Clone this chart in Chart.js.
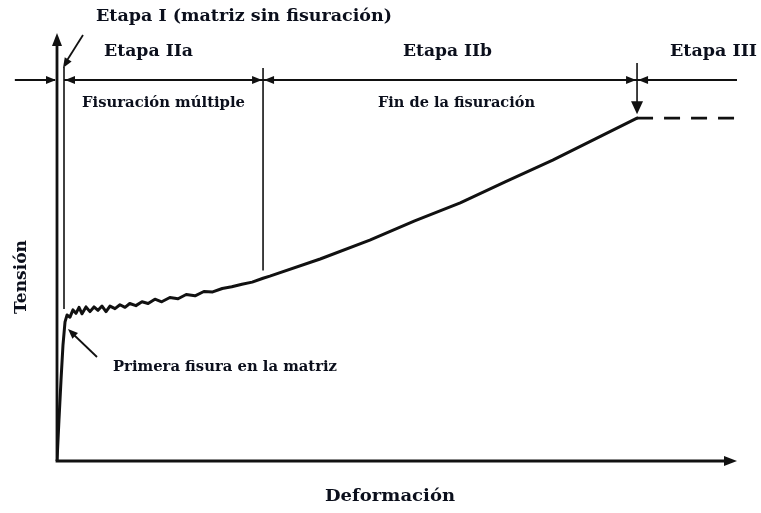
<!DOCTYPE html>
<html>
<head>
<meta charset="utf-8">
<script src="https://cdn.jsdelivr.net/npm/chart.js@4/dist/chart.umd.min.js"></script>
<style>
  html, body { margin: 0; padding: 0; background: #fff; }
  #wrap { width: 761px; height: 513px; }
</style>
</head>
<body>
<div id="wrap"><canvas id="curveChart" width="761" height="513"></canvas></div>
<script>
// Curva tensión-deformación (unidades relativas 0-100)
const strain = [0, 0.29, 0.59, 0.88, 1.18, 1.47, 1.91, 2.35, 2.79, 3.24, 3.68, 4.26, 4.85, 5.44, 6.03,
    6.62, 7.21, 7.79, 8.53, 9.26, 10.0, 10.7, 11.6, 12.5, 13.4, 14.4, 15.4, 16.6, 17.8, 19.0, 20.3,
    21.6, 22.9, 24.3, 25.7, 27.2, 28.7, 30.3, 31.3, 38.7, 46.0, 52.6, 59.3, 65.9, 72.9, 79.1, 85.3];
const stress = [0, 9.6, 18.9, 27.1, 32.5, 34.1, 33.6, 35.3, 34.5, 35.9, 34.4, 36.0, 34.9, 36.0, 35.2,
    36.2, 34.9, 36.2, 35.6, 36.5, 35.9, 36.8, 36.3, 37.2, 36.8, 37.8, 37.2, 38.2, 37.9, 38.9, 38.6,
    39.6, 39.5, 40.3, 40.7, 41.3, 41.8, 42.7, 43.2, 47.2, 51.6, 56.1, 60.3, 65.2, 70.3, 75.2, 80.1];

// Meseta (etapa III, línea discontinua)
const plateauStrain = [85.3, 100];
const plateauStress = [80.1, 80.1];

// Límites entre etapas (deformación)
const stageBounds = [1.03, 30.3, 85.3];
const dimLevel = 89;      // altura de la línea de cotas
const dimStart = -6.2;

const curvePoints = strain.map((x, i) => ({ x: x, y: stress[i] }));
const plateauPoints = plateauStrain.map((x, i) => ({ x: x, y: plateauStress[i] }));

const INK = '#111';
const TEXT = '#0b0f1c';

function arrowHead(ctx, tx, ty, angle, len, half) {
    ctx.save();
    ctx.translate(tx, ty);
    ctx.rotate(angle);
    ctx.beginPath();
    ctx.moveTo(0, 0);
    ctx.lineTo(-len, -half);
    ctx.lineTo(-len, half);
    ctx.closePath();
    ctx.fill();
    ctx.restore();
}

function line(ctx, x1, y1, x2, y2, w) {
    ctx.lineWidth = w;
    ctx.beginPath();
    ctx.moveTo(x1, y1);
    ctx.lineTo(x2, y2);
    ctx.stroke();
}

function label(ctx, text, left, cy, size, width) {
    ctx.save();
    ctx.font = 'bold ' + size + 'px "DejaVu Serif"';
    ctx.textBaseline = 'middle';
    ctx.textAlign = 'left';
    ctx.fillStyle = TEXT;
    const w = ctx.measureText(text).width;
    ctx.translate(left, cy);
    ctx.scale(width / w, 1);
    ctx.fillText(text, 0, 0);
    ctx.restore();
}

const schematic = {
    id: 'schematic',
    afterDatasetsDraw(chart) {
        const ctx = chart.ctx;
        const xs = chart.scales.x, ys = chart.scales.y;
        const px = v => xs.getPixelForValue(v);
        const py = v => ys.getPixelForValue(v);
        ctx.save();
        ctx.strokeStyle = INK;
        ctx.fillStyle = INK;
        ctx.lineCap = 'butt';

        // ejes con flechas
        line(ctx, px(0), py(0), px(0), py(100) + 8, 2.8);
        arrowHead(ctx, px(0), py(100), -Math.PI / 2, 13, 5);
        line(ctx, px(0) - 1.4, py(0), px(100) - 8, py(0), 2.8);
        arrowHead(ctx, px(100), py(0), 0, 13, 5);

        // línea de cotas
        const yd = py(dimLevel);
        const b0 = px(stageBounds[0]), b1 = px(stageBounds[1]), b2 = px(stageBounds[2]);
        line(ctx, px(dimStart), yd, px(0) - 2, yd, 2);
        arrowHead(ctx, px(0) - 1, yd, 0, 10, 4);
        line(ctx, b0, yd, b1, yd, 2);
        arrowHead(ctx, b0 + 1, yd, Math.PI, 10, 4);
        arrowHead(ctx, b1 - 1, yd, 0, 10, 4);
        line(ctx, b1, yd, b2, yd, 2);
        arrowHead(ctx, b1 + 1, yd, Math.PI, 10, 4);
        arrowHead(ctx, b2 - 1, yd, 0, 10, 4);
        line(ctx, b2, yd, px(100), yd, 2);
        arrowHead(ctx, b2 + 1, yd, Math.PI, 10, 4);

        // verticales de separación
        line(ctx, b0, yd - 13, b0, py(35.5), 1.6);
        line(ctx, b1, yd - 12, b1, py(44.5), 1.6);
        line(ctx, b2, yd - 17, b2, py(80.1) - 12, 1.6);
        arrowHead(ctx, b2, py(80.1) - 4, Math.PI / 2, 13, 6);

        // flecha "Etapa I"
        line(ctx, 83, 35, 66, 62, 1.8);
        arrowHead(ctx, 63, 68, Math.atan2(68 - 35, 63 - 83), 10, 4);

        // flecha "Primera fisura"
        line(ctx, 97, 357, 73, 334, 1.8);
        arrowHead(ctx, 68, 329, Math.atan2(329 - 357, 68 - 97), 10, 4);

        // textos
        label(ctx, 'Etapa I (matriz sin fisuración)', 96, 17, 17, 296);
        label(ctx, 'Etapa IIa', 104, 52, 17, 89);
        label(ctx, 'Etapa IIb', 403, 52, 17, 89);
        label(ctx, 'Etapa III', 670, 52, 17, 87);
        label(ctx, 'Fisuración múltiple', 82, 103, 14, 163);
        label(ctx, 'Fin de la fisuración', 378, 103, 14, 157);
        label(ctx, 'Primera fisura en la matriz', 113, 367, 14, 224);
        label(ctx, 'Deformación', 325, 497, 17, 130);

        ctx.save();
        ctx.translate(22, 277);
        ctx.rotate(-Math.PI / 2);
        label(ctx, 'Tensión', -37, 0, 16, 74);
        ctx.restore();

        ctx.restore();
    }
};

new Chart(document.getElementById('curveChart').getContext('2d'), {
    type: 'scatter',
    data: {
        datasets: [
            {
                label: 'Curva',
                data: curvePoints,
                showLine: true,
                borderColor: INK,
                borderWidth: 3,
                borderJoinStyle: 'round',
                borderCapStyle: 'round',
                pointRadius: 0,
                tension: 0
            },
            {
                label: 'Etapa III',
                data: plateauPoints,
                showLine: true,
                borderColor: INK,
                borderWidth: 2.6,
                borderDash: [16, 11],
                pointRadius: 0
            }
        ]
    },
    options: {
        responsive: false,
        animation: false,
        layout: {
            padding: { left: 57, right: 24, top: 33, bottom: 52 }
        },
        plugins: {
            legend: { display: false },
            tooltip: { enabled: false }
        },
        scales: {
            x: { type: 'linear', min: 0, max: 100, display: false },
            y: { type: 'linear', min: 0, max: 100, display: false }
        }
    },
    plugins: [schematic]
});
</script>
</body>
</html>
